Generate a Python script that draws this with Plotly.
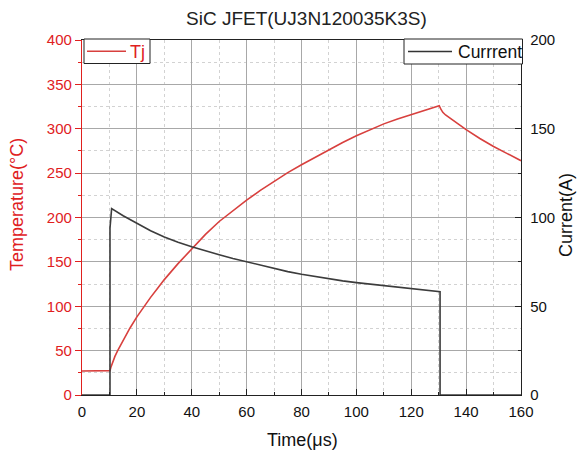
import plotly.graph_objects as go

# Junction temperature of the SiC JFET during the current pulse
t_tj = [0, 10, 10.2, 10.5, 11, 12, 13, 15, 17.5, 20, 22.5, 25, 27.5, 30, 35, 40, 45, 50,
        55, 60, 65, 70, 75, 80, 85, 90, 95, 100, 105, 110, 115, 120, 125, 130.2,
        130.8, 131.5, 132.5, 135, 140, 145, 150, 155, 160]
tj = [27, 27, 27.5, 31, 36, 43.5, 50, 62, 75.5, 88, 99.5, 110, 120, 130, 148, 165, 181,
      195.5, 208, 219.5, 230.5, 241, 250.5, 259.5, 268, 276.5, 284.5, 292, 299, 305.5,
      311, 316, 321, 326, 322, 318.5, 315.5, 310, 299, 289, 280, 272, 264]

# Drain current
t_i = [0, 10.2, 10.2, 10.8, 15, 20, 25, 30, 35, 40, 45, 50, 55, 60, 65, 70, 75, 80,
       85, 90, 95, 100, 105, 110, 115, 120, 125, 130.5, 130.5, 160]
cur = [0, 0, 94, 105, 101, 96.7, 92.5, 89, 86, 83.5, 81.1, 79, 76.9, 75, 73, 71.2,
       69.5, 68, 66.7, 65.5, 64.3, 63.3, 62.4, 61.5, 60.6, 59.8, 59, 58.2, 0, 0]

RED = "#e0201e"
TJ_COLOR = "#d8403e"
CUR_COLOR = "#3c3c3c"
FONT = "Liberation Sans, Arial, sans-serif"

# plot area in pixels: x 82..521, y 40..395
L, R, T, B = 82, 521, 40, 395


def px(x):
    return (x - L) / (R - L)


def py(y):
    return (B - y) / (B - T)


fig = go.Figure()
fig.add_trace(go.Scatter(x=t_tj, y=tj, mode="lines", name="Tj",
                         line=dict(color=TJ_COLOR, width=1.6)))
fig.add_trace(go.Scatter(x=t_i, y=cur, mode="lines", name="Currrent", yaxis="y2",
                         line=dict(color=CUR_COLOR, width=1.6)))

shapes = []
annotations = []

# legend boxes
for (x0, y0, x1, y1, lx0, lx1, color, label, tx, fsize) in [
    (84, 39, 150, 63.5, 87, 126, TJ_COLOR, "Tj", 128, 18),
    (404, 39, 522.5, 64, 408, 452, "#333", "Currrent", 456, 17.5),
]:
    shapes.append(dict(type="rect", xref="paper", yref="paper",
                       x0=px(x0), x1=px(x1), y0=py(y1), y1=py(y0),
                       line=dict(color="#222", width=1), fillcolor="white", layer="above"))
    ym = (y0 + y1) / 2
    shapes.append(dict(type="line", xref="paper", yref="paper",
                       x0=px(lx0), x1=px(lx1), y0=py(ym), y1=py(ym),
                       line=dict(color=color, width=1.4), layer="above"))
    annotations.append(dict(text=label, xref="paper", yref="paper", x=px(tx), y=py(ym + 1),
                            xanchor="left", yanchor="middle", showarrow=False,
                            font=dict(size=fsize, color=RED if label == "Tj" else "#111")))

# axis titles
annotations += [
    dict(text="Time(μs)", xref="paper", yref="paper", x=px(302), y=py(440),
         xanchor="center", yanchor="middle", showarrow=False,
         font=dict(size=18, color="#111")),
    dict(text="Temperature(°C)", xref="paper", yref="paper", x=px(17), y=py(205),
         xanchor="center", yanchor="middle", showarrow=False, textangle=-90,
         font=dict(size=18, color=RED)),
    dict(text="Current(A)", xref="paper", yref="paper", x=px(566), y=py(215),
         xanchor="center", yanchor="middle", showarrow=False, textangle=-90,
         font=dict(size=18, color="#111")),
    dict(text="SiC JFET(UJ3N120035K3S)", xref="paper", yref="paper", x=px(306), y=py(18),
         xanchor="center", yanchor="middle", showarrow=False,
         font=dict(size=19, color="#222")),
]

fig.update_layout(
    width=577, height=457,
    margin=dict(l=L, r=577 - R, t=T, b=457 - B, autoexpand=False),
    paper_bgcolor="white", plot_bgcolor="white",
    font=dict(family=FONT, size=15, color="#111"),
    showlegend=False,
    shapes=shapes,
    annotations=annotations,
    xaxis=dict(
        range=[0, 160], dtick=20, tick0=0, automargin=False,
        showline=True, linecolor="#222", linewidth=1.3, mirror=True,
        ticks="inside", ticklen=6, tickcolor="#222", ticklabelstandoff=3,
        showgrid=True, gridcolor="#a8a8a8", gridwidth=1,
        zeroline=False,
        minor=dict(dtick=10, ticks="inside", ticklen=3, tickcolor="#222",
                   showgrid=True, gridcolor="#d2d2d2", griddash="dot"),
        tickfont=dict(size=15, color="#111"),
    ),
    yaxis=dict(
        range=[0, 400], dtick=50, tick0=0, automargin=False,
        showline=True, linecolor=RED, linewidth=1.3,
        ticks="outside", ticklen=6, tickcolor=RED,
        showgrid=True, gridcolor="#a8a8a8", gridwidth=1,
        zeroline=False,
        minor=dict(dtick=25, ticks="outside", ticklen=3, tickcolor=RED,
                   showgrid=True, gridcolor="#d2d2d2", griddash="dot"),
        tickfont=dict(size=15, color=RED),
    ),
    yaxis2=dict(
        range=[0, 200], dtick=50, tick0=0, overlaying="y", side="right", automargin=False,
        showline=True, linecolor="#222", linewidth=1.3,
        ticks="inside", ticklen=6, tickcolor="#222", ticklabelstandoff=5,
        showgrid=False, zeroline=False,
        minor=dict(dtick=25, ticks="inside", ticklen=3, tickcolor="#222", showgrid=False),
        tickfont=dict(size=15, color="#111"),
    ),
)

fig.write_html("out.html")
